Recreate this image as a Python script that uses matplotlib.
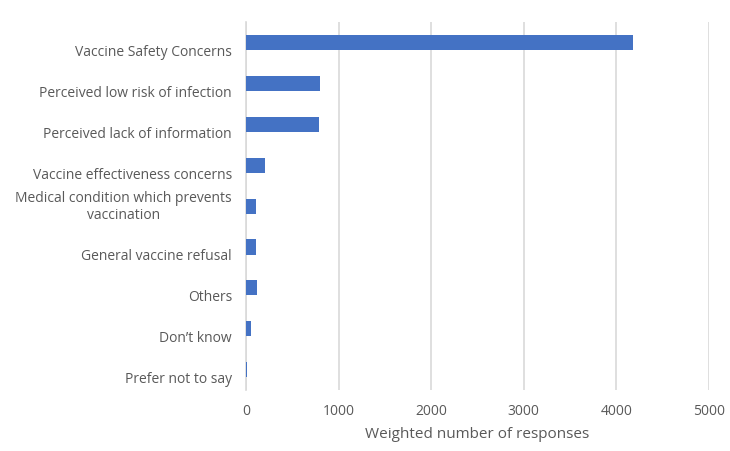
import matplotlib
matplotlib.use("Agg")
import matplotlib.pyplot as plt
import matplotlib.transforms as mtransforms

# 数据
categories = [
    "Vaccine Safety Concerns",
    "Perceived low risk of infection",
    "Perceived lack of information",
    "Vaccine effectiveness concerns",
    "Medical condition which prevents\nvaccination",
    "General vaccine refusal",
    "Others",
    "Don\u2019t know",
    "Prefer not to say",
]
responses = [4180, 795, 785, 210, 108, 106, 118, 56, 12]
xticks = [0, 1000, 2000, 3000, 4000, 5000]

plt.rcParams['font.family'] = ['Open Sans', 'DejaVu Sans']
txt = '#595959'

fig = plt.figure(figsize=(7.3, 4.51), dpi=100)
ax = fig.add_axes([0.337, 0.135, 0.634, 0.816])

pos = list(range(len(categories)))
ax.barh(pos, responses, height=0.37, color='#4472C4', zorder=3)
ax.set_ylim(len(categories) - 0.5, -0.5)
ax.set_xlim(0, 5000)
ax.set_xticks(xticks)
ax.set_xticklabels([str(t) for t in xticks])
ax.set_yticks(pos)
ax.set_yticklabels(categories, multialignment='center')

ax.grid(axis='x', color='#d9d9d9', linewidth=1.2, zorder=0)
for s in ['top', 'right', 'bottom']:
    ax.spines[s].set_visible(False)
ax.spines['left'].set_color('#d9d9d9')
ax.spines['left'].set_linewidth(1.2)
ax.tick_params(length=0, colors=txt, labelsize=10, pad=10)
ax.set_xlabel('Weighted number of responses', color=txt, fontsize=11, labelpad=6)

# 标签比柱子略低一点 (像 Excel 那样)
for lab in ax.get_yticklabels():
    dy = 0.02 if '\n' in lab.get_text() else -0.08
    off = mtransforms.ScaledTranslation(0, dy, fig.dpi_scale_trans)
    lab.set_transform(lab.get_transform() + off)

fig.savefig('out.png', dpi=100)
